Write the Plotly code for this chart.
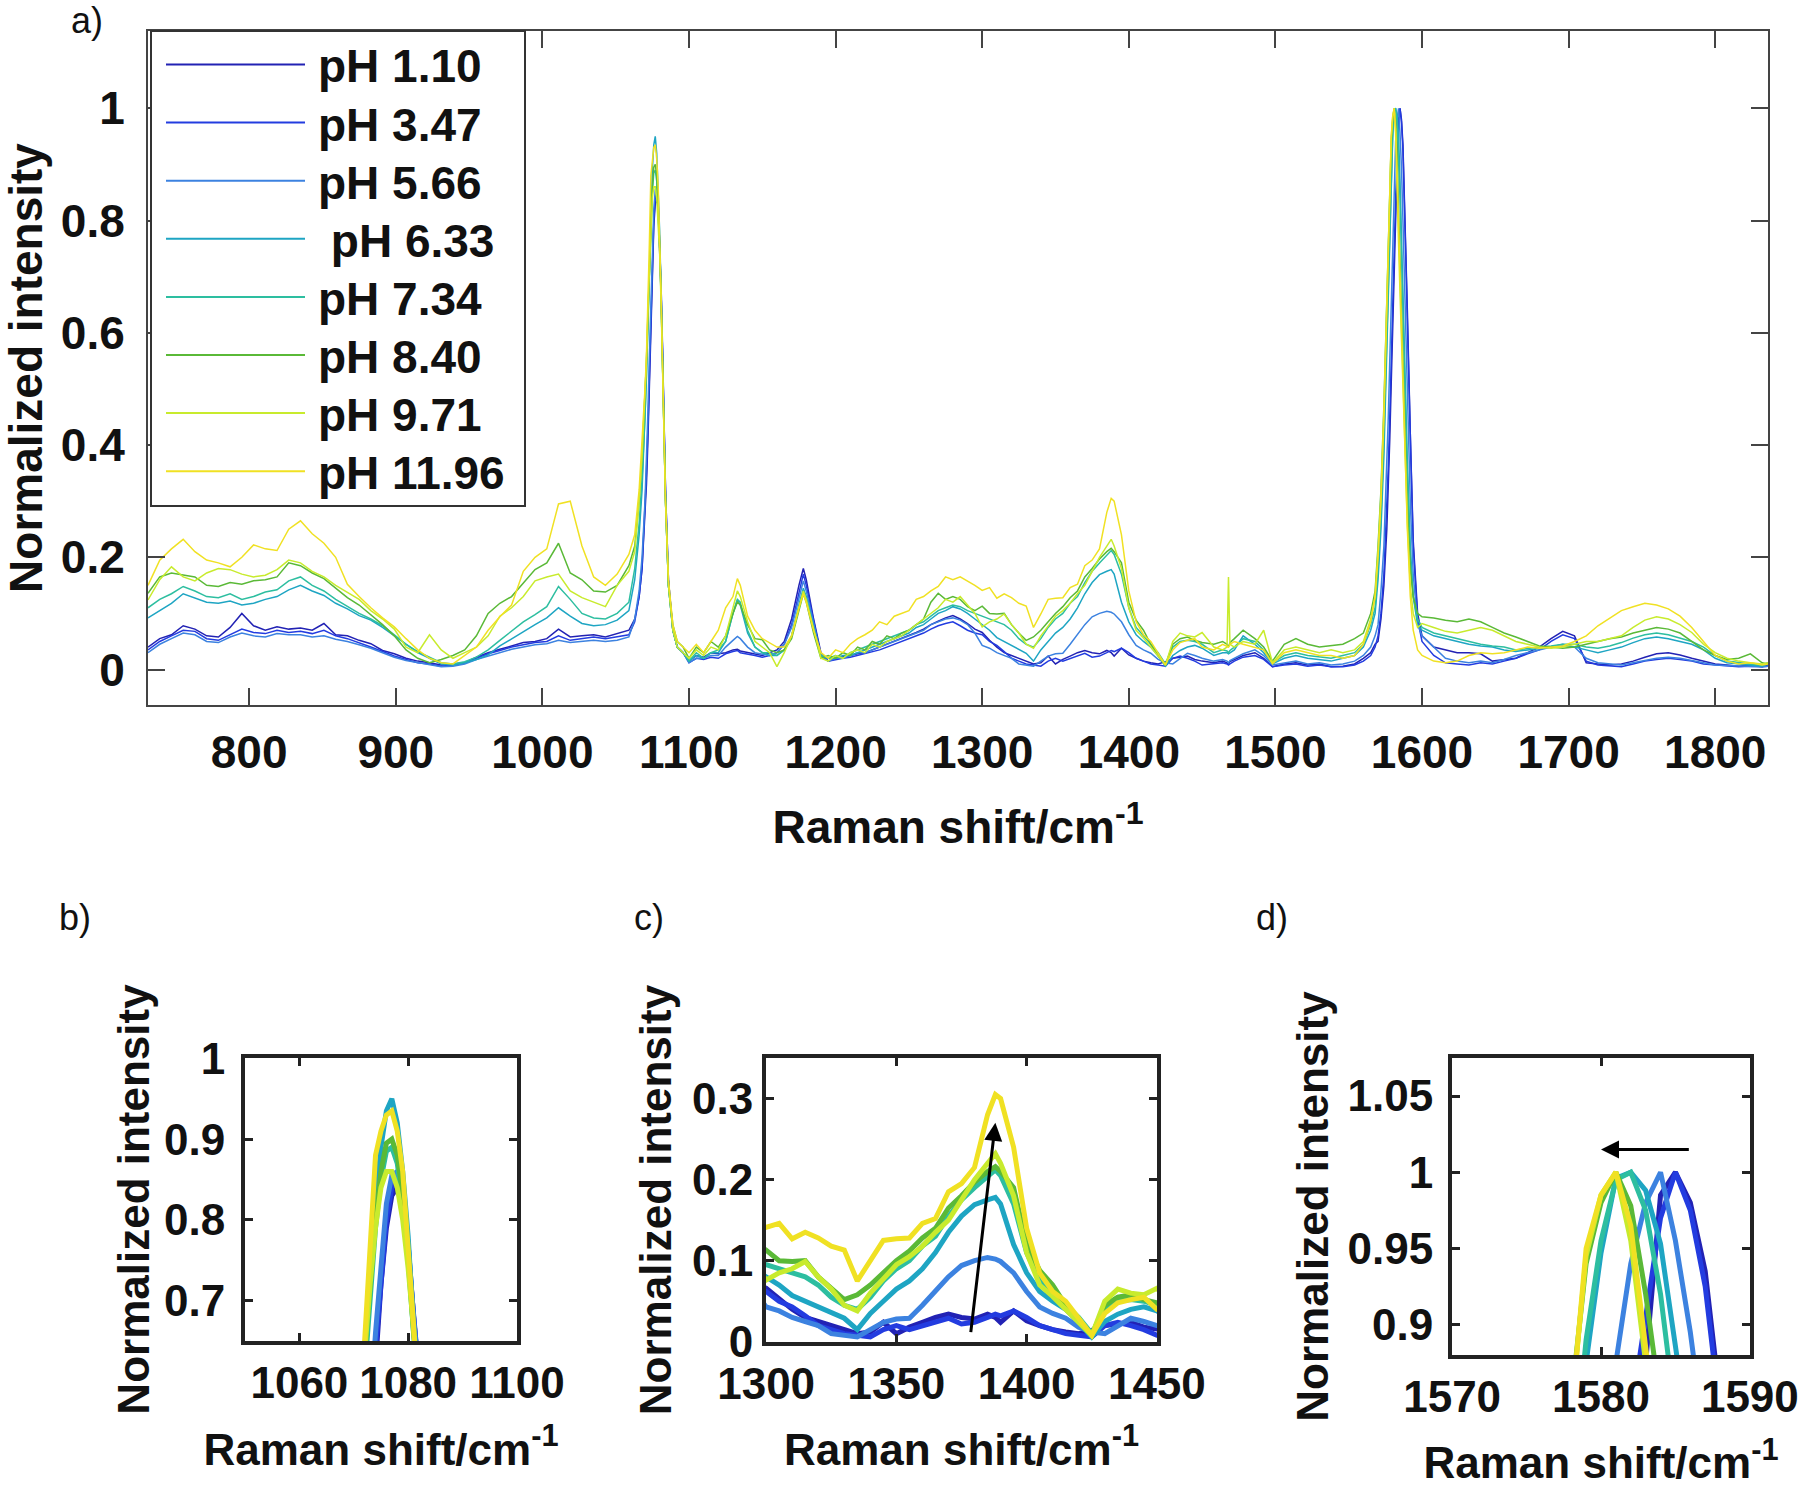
import plotly.graph_objects as go

# ---------------- data ----------------
raman_shift = [
    731, 739, 747, 755, 763, 771, 779, 787, 795, 803, 811, 819, 827, 835, 843, 851, 859, 867, 875, 883, 891,
    899, 907, 915, 923, 931, 939, 947, 955, 963, 971, 979, 987, 995, 1003, 1011, 1019, 1027, 1035, 1043, 1051, 1059,
    1063, 1066, 1068, 1070, 1071, 1072, 1073, 1074, 1075, 1076, 1077, 1078, 1079, 1080, 1081, 1082, 1084, 1086, 1089, 1092, 1096,
    1100, 1105, 1110, 1115, 1120, 1125, 1130, 1133, 1135, 1140, 1145, 1150, 1155, 1160, 1165, 1170, 1175, 1178, 1180, 1185,
    1190, 1195, 1200, 1205, 1210, 1215, 1220, 1225, 1230, 1235, 1240, 1245, 1250, 1255, 1260, 1265, 1270, 1275, 1280, 1285,
    1290, 1295, 1300, 1305, 1310, 1315, 1320, 1325, 1330, 1335, 1340, 1345, 1350, 1355, 1360, 1365, 1370, 1375, 1380, 1385,
    1388, 1390, 1395, 1400, 1405, 1410, 1415, 1420, 1425, 1430, 1435, 1440, 1445, 1450,
    1458, 1464, 1467, 1468, 1469, 1472, 1478, 1486, 1492, 1498, 1506, 1514, 1522, 1530, 1538, 1546, 1554, 1560, 1565, 1568,
    1570, 1572, 1574, 1576, 1577, 1578, 1579, 1580, 1581, 1582, 1583, 1584, 1585, 1586, 1587, 1588, 1589, 1590, 1592, 1594, 1597,
    1600, 1608, 1616, 1624, 1632, 1640, 1648, 1656, 1664, 1672, 1680, 1688, 1696, 1704, 1712, 1720, 1728, 1736, 1744, 1752,
    1760, 1768, 1776, 1784, 1792, 1800, 1808, 1816, 1824, 1832, 1836,
]

ph_1_10 = [
    0.040, 0.055, 0.062, 0.078, 0.072, 0.060, 0.058, 0.075, 0.100, 0.078, 0.070, 0.076, 0.072, 0.074, 0.070, 0.082, 0.062, 0.060, 0.052, 0.046, 0.034,
    0.028, 0.020, 0.015, 0.012, 0.008, 0.010, 0.012, 0.022, 0.030, 0.036, 0.042, 0.048, 0.050, 0.055, 0.072, 0.058, 0.060, 0.062, 0.058, 0.064, 0.070,
    0.09, 0.13, 0.18, 0.27, 0.33, 0.41, 0.51, 0.62, 0.72, 0.79, 0.83, 0.84, 0.82, 0.76, 0.67, 0.56, 0.32, 0.16, 0.07, 0.04, 0.03,
    0.015, 0.025, 0.022, 0.03, 0.028, 0.03, 0.035, 0.036, 0.033, 0.03, 0.028, 0.025, 0.03, 0.035, 0.05, 0.09, 0.15, 0.18, 0.16, 0.09,
    0.03, 0.015, 0.02, 0.022, 0.025, 0.028, 0.03, 0.035, 0.04, 0.045, 0.05, 0.055, 0.06, 0.066, 0.072, 0.08, 0.086, 0.092, 0.096, 0.09,
    0.082, 0.072, 0.066, 0.052, 0.04, 0.03, 0.025, 0.02, 0.015, 0.01, 0.012, 0.024, 0.01, 0.018, 0.024, 0.03, 0.034, 0.03, 0.028, 0.034,
    0.03, 0.024, 0.038, 0.026, 0.02, 0.015, 0.012, 0.01, 0.014, 0.02, 0.022, 0.024, 0.018, 0.015,
    0.012, 0.015, 0.012, 0.01, 0.014, 0.018, 0.025, 0.03, 0.02, 0.005, 0.01, 0.012, 0.008, 0.01, 0.005, 0.006, 0.01, 0.02, 0.03, 0.045,
    0.05, 0.09, 0.15, 0.25, 0.32, 0.41, 0.51, 0.62, 0.72, 0.8, 0.875, 0.985, 1.0, 0.98, 0.935, 0.85, 0.75, 0.64, 0.42, 0.23, 0.1,
    0.06, 0.04, 0.035, 0.03, 0.03, 0.028, 0.015, 0.018, 0.02, 0.03, 0.04, 0.055, 0.068, 0.06, 0.012, 0.01, 0.008, 0.01, 0.015, 0.022,
    0.028, 0.03, 0.026, 0.02, 0.015, 0.01, 0.008, 0.006, 0.008, 0.005, 0.008,
]

ph_3_47 = [
    0.035, 0.050, 0.060, 0.070, 0.068, 0.055, 0.052, 0.062, 0.072, 0.066, 0.064, 0.070, 0.066, 0.068, 0.064, 0.070, 0.060, 0.055, 0.048, 0.040, 0.032,
    0.024, 0.018, 0.012, 0.010, 0.006, 0.008, 0.012, 0.020, 0.028, 0.034, 0.040, 0.044, 0.048, 0.050, 0.060, 0.052, 0.055, 0.058, 0.055, 0.058, 0.062,
    0.085, 0.13, 0.18, 0.28, 0.35, 0.43, 0.53, 0.64, 0.73, 0.80, 0.84, 0.85, 0.83, 0.77, 0.68, 0.57, 0.32, 0.16, 0.07, 0.04, 0.03,
    0.012, 0.02, 0.018, 0.022, 0.02, 0.028, 0.032, 0.034, 0.03, 0.028, 0.025, 0.022, 0.025, 0.03, 0.045, 0.08, 0.14, 0.17, 0.15, 0.085,
    0.025, 0.015, 0.018, 0.02, 0.022, 0.025, 0.028, 0.032, 0.035, 0.04, 0.045, 0.05, 0.055, 0.06, 0.065, 0.072, 0.078, 0.082, 0.085, 0.078,
    0.07, 0.065, 0.062, 0.05, 0.043, 0.032, 0.02, 0.015, 0.01, 0.008, 0.006, 0.015, 0.02, 0.015, 0.02, 0.025, 0.029, 0.022, 0.024, 0.03,
    0.034, 0.032, 0.038, 0.03, 0.02, 0.015, 0.01, 0.008, 0.006, 0.02, 0.024, 0.02, 0.015, 0.008,
    0.01, 0.012, 0.01, 0.008, 0.01, 0.015, 0.022, 0.025, 0.018, 0.005, 0.008, 0.01, 0.006, 0.008, 0.005, 0.005, 0.008, 0.015, 0.025, 0.04,
    0.06, 0.1, 0.17, 0.28, 0.36, 0.45, 0.55, 0.66, 0.76, 0.84, 0.905, 0.97, 1.0, 0.975, 0.925, 0.84, 0.73, 0.62, 0.4, 0.22, 0.09,
    0.05, 0.025, 0.012, 0.01, 0.008, 0.012, 0.01, 0.015, 0.02, 0.028, 0.035, 0.05, 0.062, 0.055, 0.015, 0.008, 0.006, 0.005, 0.01, 0.015,
    0.018, 0.02, 0.018, 0.015, 0.01, 0.008, 0.006, 0.005, 0.006, 0.005, 0.006,
]

ph_5_66 = [
    0.030, 0.045, 0.055, 0.065, 0.062, 0.050, 0.048, 0.058, 0.065, 0.060, 0.058, 0.064, 0.062, 0.062, 0.058, 0.060, 0.054, 0.050, 0.044, 0.038, 0.030,
    0.022, 0.016, 0.012, 0.008, 0.005, 0.006, 0.010, 0.018, 0.024, 0.030, 0.036, 0.040, 0.044, 0.046, 0.052, 0.048, 0.050, 0.052, 0.050, 0.052, 0.058,
    0.09, 0.14, 0.20, 0.30, 0.37, 0.46, 0.56, 0.66, 0.75, 0.82, 0.855, 0.86, 0.83, 0.77, 0.68, 0.56, 0.31, 0.15, 0.07, 0.04, 0.03,
    0.012, 0.02, 0.02, 0.025, 0.025, 0.04, 0.052, 0.059, 0.055, 0.04, 0.03, 0.028, 0.025, 0.03, 0.045, 0.075, 0.13, 0.158, 0.14, 0.08,
    0.025, 0.015, 0.02, 0.02, 0.025, 0.03, 0.03, 0.035, 0.04, 0.045, 0.05, 0.055, 0.06, 0.065, 0.07, 0.08, 0.085, 0.09, 0.092, 0.088,
    0.08, 0.065, 0.043, 0.038, 0.03, 0.025, 0.02, 0.01, 0.008, 0.006, 0.015, 0.024, 0.028, 0.029, 0.045, 0.062, 0.08, 0.094, 0.1, 0.104,
    0.102, 0.099, 0.085, 0.062, 0.043, 0.035, 0.029, 0.018, 0.012, 0.01, 0.02, 0.029, 0.025, 0.02,
    0.015, 0.018, 0.015, 0.012, 0.016, 0.02, 0.028, 0.035, 0.025, 0.008, 0.012, 0.015, 0.01, 0.012, 0.008, 0.01, 0.015, 0.025, 0.04, 0.06,
    0.08, 0.14, 0.22, 0.36, 0.45, 0.55, 0.66, 0.77, 0.875, 0.94, 0.98, 1.0, 0.955, 0.895, 0.8, 0.69, 0.58, 0.48, 0.3, 0.17, 0.08,
    0.06, 0.04, 0.02, 0.015, 0.012, 0.015, 0.012, 0.018, 0.025, 0.03, 0.035, 0.04, 0.045, 0.04, 0.02, 0.012, 0.01, 0.008, 0.012, 0.016,
    0.02, 0.022, 0.02, 0.016, 0.012, 0.008, 0.007, 0.006, 0.006, 0.005, 0.006,
]

ph_6_33 = [
    0.092, 0.105, 0.118, 0.135, 0.128, 0.120, 0.118, 0.122, 0.115, 0.118, 0.125, 0.130, 0.142, 0.150, 0.140, 0.132, 0.118, 0.108, 0.096, 0.088, 0.075,
    0.060, 0.045, 0.030, 0.020, 0.010, 0.008, 0.012, 0.018, 0.026, 0.042, 0.055, 0.068, 0.080, 0.092, 0.110, 0.095, 0.082, 0.078, 0.080, 0.088, 0.105,
    0.16, 0.24, 0.32, 0.44, 0.52, 0.62, 0.72, 0.82, 0.89, 0.935, 0.95, 0.92, 0.86, 0.78, 0.67, 0.55, 0.30, 0.15, 0.07, 0.04, 0.03,
    0.015, 0.025, 0.02, 0.03, 0.03, 0.05, 0.1, 0.124, 0.115, 0.065, 0.04, 0.03, 0.025, 0.025, 0.035, 0.06, 0.115, 0.145, 0.13, 0.075,
    0.025, 0.02, 0.02, 0.025, 0.025, 0.03, 0.035, 0.04, 0.045, 0.05, 0.055, 0.06, 0.065, 0.075, 0.08, 0.09, 0.1, 0.105, 0.112, 0.108,
    0.1, 0.09, 0.08, 0.07, 0.057, 0.05, 0.043, 0.035, 0.029, 0.015, 0.035, 0.05, 0.065, 0.075, 0.09, 0.11, 0.135, 0.155, 0.169, 0.175,
    0.178, 0.17, 0.12, 0.085, 0.062, 0.05, 0.04, 0.024, 0.006, 0.025, 0.034, 0.04, 0.043, 0.038,
    0.025, 0.03, 0.03, 0.028, 0.03, 0.035, 0.06, 0.045, 0.03, 0.01, 0.02, 0.025, 0.02, 0.018, 0.015, 0.02, 0.025, 0.04, 0.07, 0.1,
    0.16, 0.25, 0.38, 0.57, 0.67, 0.78, 0.875, 0.947, 0.996, 1.0, 0.988, 0.953, 0.87, 0.77, 0.66, 0.56, 0.46, 0.37, 0.22, 0.13, 0.08,
    0.07, 0.06, 0.055, 0.05, 0.045, 0.042, 0.04, 0.035, 0.032, 0.035, 0.038, 0.04, 0.042, 0.04, 0.035, 0.03, 0.035, 0.04, 0.048, 0.055,
    0.058, 0.055, 0.05, 0.045, 0.035, 0.02, 0.012, 0.01, 0.008, 0.006, 0.01,
]

ph_7_34 = [
    0.110, 0.125, 0.135, 0.148, 0.140, 0.130, 0.128, 0.135, 0.125, 0.130, 0.138, 0.142, 0.158, 0.165, 0.150, 0.140, 0.125, 0.112, 0.100, 0.090, 0.078,
    0.062, 0.045, 0.032, 0.022, 0.012, 0.010, 0.014, 0.022, 0.035, 0.052, 0.068, 0.085, 0.098, 0.112, 0.148, 0.125, 0.100, 0.092, 0.090, 0.100, 0.120,
    0.18, 0.26, 0.34, 0.45, 0.52, 0.61, 0.70, 0.79, 0.85, 0.885, 0.89, 0.87, 0.82, 0.75, 0.66, 0.54, 0.30, 0.15, 0.07, 0.04, 0.03,
    0.015, 0.03, 0.02, 0.03, 0.035, 0.05, 0.1, 0.125, 0.12, 0.07, 0.04, 0.03, 0.03, 0.025, 0.035, 0.06, 0.11, 0.14, 0.125, 0.07,
    0.025, 0.02, 0.025, 0.02, 0.03, 0.035, 0.04, 0.045, 0.05, 0.055, 0.06, 0.065, 0.07, 0.08, 0.085, 0.095, 0.105, 0.11, 0.115, 0.112,
    0.105, 0.1, 0.095, 0.09, 0.085, 0.08, 0.07, 0.055, 0.045, 0.04, 0.055, 0.075, 0.09, 0.1, 0.118, 0.13, 0.155, 0.175, 0.19, 0.205,
    0.212, 0.205, 0.17, 0.11, 0.075, 0.06, 0.045, 0.03, 0.01, 0.04, 0.05, 0.052, 0.05, 0.045,
    0.03, 0.035, 0.033, 0.03, 0.034, 0.04, 0.055, 0.05, 0.035, 0.012, 0.025, 0.03, 0.025, 0.022, 0.02, 0.025, 0.03, 0.045, 0.08, 0.11,
    0.18, 0.27, 0.41, 0.59, 0.69, 0.79, 0.89, 0.955, 0.995, 1.0, 0.975, 0.92, 0.84, 0.74, 0.64, 0.54, 0.44, 0.35, 0.2, 0.13, 0.09,
    0.075, 0.065, 0.06, 0.055, 0.05, 0.045, 0.042, 0.04, 0.035, 0.038, 0.04, 0.042, 0.045, 0.045, 0.04, 0.038, 0.042, 0.048, 0.056, 0.062,
    0.065, 0.062, 0.056, 0.05, 0.04, 0.025, 0.015, 0.012, 0.01, 0.008, 0.012,
]

ph_8_40 = [
    0.136, 0.165, 0.172, 0.168, 0.165, 0.150, 0.148, 0.155, 0.152, 0.158, 0.160, 0.165, 0.190, 0.185, 0.172, 0.162, 0.145, 0.128, 0.115, 0.098, 0.080,
    0.060, 0.035, 0.020, 0.012, 0.018, 0.025, 0.035, 0.060, 0.100, 0.118, 0.130, 0.155, 0.178, 0.190, 0.225, 0.172, 0.160, 0.140, 0.138, 0.150, 0.185,
    0.22, 0.30, 0.38, 0.48, 0.55, 0.63, 0.72, 0.80, 0.86, 0.895, 0.90, 0.88, 0.83, 0.76, 0.66, 0.54, 0.30, 0.15, 0.08, 0.05, 0.04,
    0.02, 0.04, 0.03, 0.05, 0.04, 0.06, 0.1, 0.12, 0.115, 0.08, 0.055, 0.053, 0.035, 0.03, 0.035, 0.055, 0.105, 0.135, 0.12, 0.065,
    0.02, 0.025, 0.02, 0.03, 0.025, 0.04, 0.035, 0.05, 0.045, 0.06, 0.055, 0.065, 0.07, 0.08, 0.09, 0.12, 0.136, 0.125, 0.13, 0.125,
    0.112, 0.105, 0.113, 0.1, 0.099, 0.1, 0.08, 0.065, 0.052, 0.058, 0.07, 0.085, 0.1, 0.112, 0.128, 0.14, 0.165, 0.18, 0.197, 0.21,
    0.216, 0.21, 0.19, 0.12, 0.088, 0.07, 0.045, 0.025, 0.008, 0.045, 0.055, 0.058, 0.052, 0.048,
    0.045, 0.05, 0.045, 0.04, 0.048, 0.055, 0.07, 0.055, 0.04, 0.015, 0.045, 0.055, 0.045, 0.04, 0.042, 0.045, 0.055, 0.065, 0.1, 0.14,
    0.22, 0.32, 0.47, 0.65, 0.75, 0.85, 0.94, 0.98, 1.0, 0.978, 0.92, 0.82, 0.72, 0.63, 0.54, 0.45, 0.37, 0.29, 0.18, 0.13, 0.1,
    0.094, 0.092, 0.088, 0.085, 0.09, 0.085, 0.075, 0.065, 0.058, 0.05, 0.042, 0.04, 0.038, 0.04, 0.045, 0.05, 0.055, 0.058, 0.065, 0.07,
    0.075, 0.072, 0.065, 0.05, 0.035, 0.025, 0.018, 0.02, 0.028, 0.012, 0.01,
]

ph_9_71 = [
    0.124, 0.160, 0.183, 0.165, 0.158, 0.172, 0.180, 0.178, 0.170, 0.165, 0.168, 0.178, 0.195, 0.190, 0.175, 0.165, 0.150, 0.138, 0.125, 0.105, 0.090,
    0.072, 0.040, 0.030, 0.062, 0.035, 0.020, 0.030, 0.040, 0.060, 0.095, 0.110, 0.130, 0.158, 0.165, 0.170, 0.140, 0.128, 0.120, 0.112, 0.150, 0.175,
    0.21, 0.30, 0.38, 0.48, 0.55, 0.64, 0.72, 0.79, 0.84, 0.86, 0.86, 0.84, 0.80, 0.74, 0.65, 0.53, 0.30, 0.15, 0.07, 0.04, 0.03,
    0.02, 0.035, 0.025, 0.04, 0.035, 0.06, 0.11, 0.14, 0.13, 0.085, 0.05, 0.04, 0.03, 0.005, 0.03, 0.06, 0.11, 0.14, 0.125, 0.07,
    0.02, 0.015, 0.025, 0.02, 0.03, 0.035, 0.03, 0.045, 0.04, 0.05, 0.055, 0.06, 0.07, 0.08, 0.09, 0.1, 0.11, 0.125, 0.12, 0.13,
    0.115, 0.1, 0.076, 0.085, 0.09, 0.099, 0.08, 0.065, 0.045, 0.038, 0.06, 0.078, 0.095, 0.105, 0.118, 0.135, 0.15, 0.175, 0.2, 0.22,
    0.232, 0.22, 0.18, 0.11, 0.07, 0.056, 0.04, 0.025, 0.008, 0.05, 0.065, 0.06, 0.058, 0.066,
    0.04, 0.035, 0.04, 0.165, 0.045, 0.04, 0.05, 0.045, 0.07, 0.012, 0.035, 0.04, 0.035, 0.03, 0.035, 0.03, 0.035, 0.05, 0.09, 0.13,
    0.21, 0.31, 0.46, 0.64, 0.74, 0.84, 0.945, 0.985, 1.0, 0.955, 0.84, 0.76, 0.67, 0.58, 0.5, 0.41, 0.33, 0.26, 0.15, 0.1, 0.075,
    0.082, 0.075, 0.068, 0.065, 0.07, 0.075, 0.07, 0.06, 0.05, 0.045, 0.04, 0.038, 0.04, 0.045, 0.05, 0.05, 0.055, 0.06, 0.075, 0.088,
    0.094, 0.09, 0.08, 0.066, 0.045, 0.03, 0.02, 0.015, 0.012, 0.01, 0.012,
]

ph_11_96 = [
    0.150, 0.195, 0.215, 0.232, 0.210, 0.195, 0.190, 0.183, 0.200, 0.222, 0.215, 0.212, 0.250, 0.265, 0.242, 0.225, 0.200, 0.152, 0.130, 0.110, 0.092,
    0.076, 0.055, 0.035, 0.020, 0.012, 0.010, 0.025, 0.040, 0.070, 0.094, 0.115, 0.175, 0.200, 0.215, 0.295, 0.300, 0.220, 0.165, 0.150, 0.170, 0.205,
    0.24, 0.32, 0.40, 0.50, 0.56, 0.65, 0.76, 0.88, 0.91, 0.93, 0.935, 0.91, 0.86, 0.77, 0.67, 0.54, 0.30, 0.16, 0.08, 0.05, 0.04,
    0.03, 0.045, 0.03, 0.05, 0.07, 0.11, 0.13, 0.162, 0.15, 0.095, 0.07, 0.055, 0.048, 0.04, 0.04, 0.06, 0.11, 0.135, 0.12, 0.07,
    0.03, 0.02, 0.035, 0.03, 0.045, 0.055, 0.062, 0.07, 0.085, 0.08, 0.095, 0.1, 0.105, 0.125, 0.13, 0.14, 0.148, 0.165, 0.16, 0.165,
    0.158, 0.15, 0.141, 0.146, 0.127, 0.135, 0.128, 0.118, 0.113, 0.075, 0.099, 0.125, 0.127, 0.128, 0.146, 0.152, 0.185, 0.195, 0.215, 0.28,
    0.305, 0.3, 0.24, 0.14, 0.085, 0.062, 0.05, 0.03, 0.008, 0.035, 0.048, 0.052, 0.055, 0.04,
    0.035, 0.045, 0.042, 0.04, 0.045, 0.05, 0.045, 0.04, 0.035, 0.01, 0.03, 0.035, 0.03, 0.025, 0.025, 0.02, 0.025, 0.045, 0.085, 0.13,
    0.2, 0.3, 0.45, 0.63, 0.73, 0.84, 0.95, 0.985, 1.0, 0.965, 0.885, 0.8, 0.7, 0.6, 0.51, 0.42, 0.33, 0.25, 0.13, 0.07, 0.035,
    0.025, 0.015, 0.012, 0.015, 0.025, 0.03, 0.028, 0.03, 0.035, 0.04, 0.038, 0.04, 0.042, 0.05, 0.06, 0.078, 0.092, 0.105, 0.112, 0.118,
    0.115, 0.108, 0.095, 0.075, 0.05, 0.025, 0.015, 0.01, 0.012, 0.008, 0.01,
]

series_names = ["pH 1.10", "pH 3.47", "pH 5.66", "\u00a0pH 6.33", "pH 7.34", "pH 8.40", "pH 9.71", "pH 11.96"]
series_values = [ph_1_10, ph_3_47, ph_5_66, ph_6_33, ph_7_34, ph_8_40, ph_9_71, ph_11_96]
series_colors = ["#2222b4", "#233ce0", "#3c82e0", "#1ea5c3", "#2dbea0", "#5ab937", "#c8eb2d", "#f0e123"]

main_xticks = [800, 900, 1000, 1100, 1200, 1300, 1400, 1500, 1600, 1700, 1800]
main_yticks = [0, 0.2, 0.4, 0.6, 0.8, 1]
b_xticks, b_yticks = [1060, 1080, 1100], [0.7, 0.8, 0.9, 1]
c_xticks, c_yticks = [1300, 1350, 1400, 1450], [0, 0.1, 0.2, 0.3]
d_xticks, d_yticks = [1570, 1580, 1590], [0.9, 0.95, 1, 1.05]
d_yticktext = ["0.9", "0.95", "1", "1.05"]

for v in series_values:
    assert len(v) == len(raman_shift), len(v)

# ---------------- figure ----------------
W, H = 1800, 1487
FONT = "Liberation Sans, Arial, Helvetica, sans-serif"
TXT = "#111111"


def px(x):
    return x / W


def py(y):
    return 1 - y / H


fig = go.Figure()
for name, col, vals in zip(series_names, series_colors, series_values):
    fig.add_trace(go.Scatter(x=raman_shift, y=vals, mode="lines", name=name, showlegend=False,
                             line=dict(color=col, width=1.5), xaxis="x", yaxis="y"))
for k in ["2", "3", "4"]:
    for name, col, vals in zip(series_names, series_colors, series_values):
        fig.add_trace(go.Scatter(x=raman_shift, y=vals, mode="lines", name=name, showlegend=False,
                                 line=dict(color=col, width=5), xaxis="x" + k, yaxis="y" + k))


def ax_style(lw, tw, tl, col, size, standoff, **kw):
    d = dict(showline=True, linecolor=col, linewidth=lw, mirror="ticks", ticks="inside",
             ticklen=tl, tickwidth=tw, tickcolor=col, showgrid=False, zeroline=False,
             ticklabelstandoff=standoff,
             tickfont=dict(family=FONT, size=size, color=TXT, weight="bold"), automargin=False)
    d.update(kw)
    return d


def title(text, size, standoff):
    return dict(text=text, font=dict(family=FONT, size=size, color=TXT, weight="bold"), standoff=standoff)


XT = "Raman shift/cm<sup>-1</sup>"
YT = "Normalized intensity"

fig.update_layout(
    width=W, height=H, margin=dict(l=0, r=0, t=0, b=0),
    paper_bgcolor="white", plot_bgcolor="white", showlegend=False,
    xaxis=ax_style(2, 2, 17, "#444444", 46, 6, domain=[px(148), px(1768)], range=[731, 1836],
                   tickmode="array", tickvals=main_xticks, anchor="y", title=title(XT, 46, 34)),
    yaxis=ax_style(2, 2, 17, "#444444", 46, 12, domain=[py(705), py(31)], range=[-0.0632, 1.1377],
                   tickmode="array", tickvals=main_yticks, anchor="x", title=title(YT, 46, 4)),
    xaxis2=ax_style(4, 3, 8, "#222222", 44, 0, domain=[px(245), px(517)], range=[1050, 1100.02],
                    tickmode="array", tickvals=b_xticks, anchor="y2", title=title(XT, 44, 29)),
    yaxis2=ax_style(4, 3, 8, "#222222", 44, 7, domain=[py(1341), py(1058)], range=[0.65, 1.0005],
                    tickmode="array", tickvals=b_yticks, anchor="x2", title=title(YT, 44, 2)),
    xaxis3=ax_style(4, 3, 8, "#222222", 44, 0, domain=[px(766), px(1157)], range=[1299.95, 1450.05],
                    tickmode="array", tickvals=c_xticks, anchor="y3", title=title(XT, 44, 28)),
    yaxis3=ax_style(4, 3, 8, "#222222", 44, 0, domain=[py(1342), py(1058)], range=[-0.0003, 0.35],
                    tickmode="array", tickvals=c_yticks, anchor="x3", title=title(YT, 44, 8)),
    xaxis4=ax_style(4, 3, 8, "#222222", 44, 0, domain=[px(1452), px(1750)], range=[1569.99, 1590.01],
                    tickmode="array", tickvals=d_xticks, anchor="y4", title=title(XT, 44, 31)),
    yaxis4=ax_style(4, 3, 8, "#222222", 44, 6, domain=[py(1355), py(1058)], range=[0.88, 1.075],
                    tickmode="array", tickvals=d_yticks, ticktext=d_yticktext, anchor="x4",
                    title=title(YT, 44, 6)),
)

# ---- legend box (drawn as in the reference: long line samples, tight rows) ----
LEG_L, LEG_R, LEG_T, LEG_B = 151, 525, 31, 506
fig.add_shape(type="rect", xref="paper", yref="paper", x0=px(LEG_L), x1=px(LEG_R), y0=py(LEG_B), y1=py(LEG_T),
              line=dict(color="#333333", width=2), fillcolor="white", layer="above")
ROW0, ROW_STEP = 64.5, 58.1
for i, (name, col) in enumerate(zip(series_names, series_colors)):
    yy = ROW0 + ROW_STEP * i
    fig.add_shape(type="line", xref="paper", yref="paper", x0=px(166), x1=px(305), y0=py(yy), y1=py(yy),
                  line=dict(color=col, width=2), layer="above")
    fig.add_annotation(text=name, x=px(316), y=py(yy + 2), xref="paper", yref="paper", showarrow=False,
                       xanchor="left", yanchor="middle",
                       font=dict(family=FONT, size=46, color=TXT, weight="bold"))

panel_font = dict(family=FONT, size=36, color=TXT)
for label, xx, yy in [("a)", 87, 20), ("b)", 75, 918), ("c)", 649, 918), ("d)", 1272, 918)]:
    fig.add_annotation(text=label, x=px(xx), y=py(yy), xref="paper", yref="paper",
                       showarrow=False, font=panel_font, xanchor="center", yanchor="middle")

# arrows in insets c and d
fig.add_annotation(x=1388, y=0.27, ax=1378.5, ay=0.01, xref="x3", yref="y3", axref="x3", ayref="y3",
                   text="", showarrow=True, arrowhead=2, arrowsize=1.2, arrowwidth=3, arrowcolor="black")
fig.add_annotation(x=1580, y=1.015, ax=1586, ay=1.015, xref="x4", yref="y4", axref="x4", ayref="y4",
                   text="", showarrow=True, arrowhead=2, arrowsize=1.2, arrowwidth=3, arrowcolor="black")

fig.write_html("out.html", config={"displayModeBar": False},
               post_script="document.body.style.margin='0';document.body.style.padding='0';"
                           "document.documentElement.style.overflow='hidden';")
